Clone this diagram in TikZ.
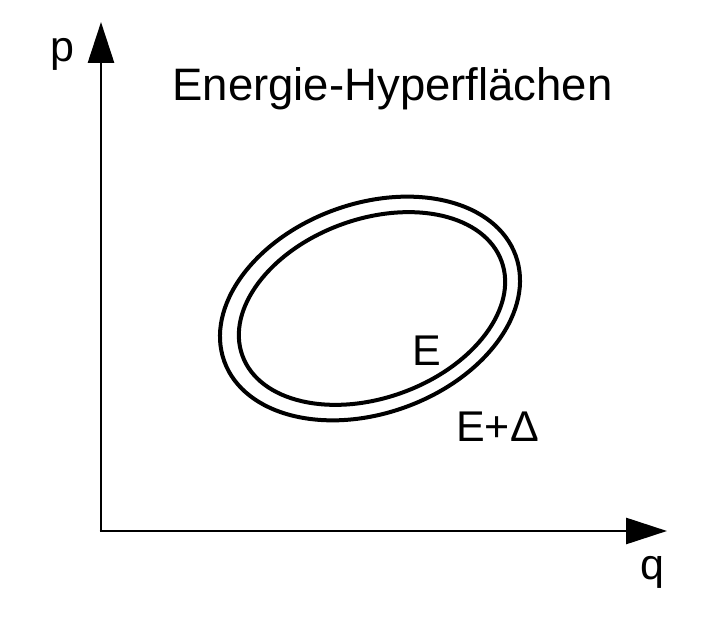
\documentclass[tikz,border=0pt]{standalone}
\usepackage{fontspec}
\setmainfont{Liberation Sans}
\usetikzlibrary{arrows.meta}
\begin{document}
\begin{tikzpicture}[x=1pt,y=-1pt,
  axis/.style={line width=2.8pt,-{Triangle[length=41pt,width=26pt]}},
  curve/.style={line width=4pt},
  lbl/.style={font=\fontsize{43}{43}\selectfont,inner sep=0pt,anchor=base}]
\useasboundingbox (0,0) rectangle (716,620);
\coordinate (O) at (101,531);
\coordinate (P) at (101,22);
\coordinate (Q) at (667,531);
\draw[axis] (O) -- (P);
\draw[axis] ([xshift=-1.4pt]O) -- (Q);
\node[lbl] (p) at (62.5,62) {p};
\node[lbl] (q) at (652.5,580) {q};
\node[lbl,font=\fontsize{45.5}{45.5}\selectfont] (title) at (392.5,101) {Energie-Hyperflächen};
\draw[curve,rotate around={20:(370,308.5)}] (370,308.5) ellipse [x radius=155pt, y radius=104.8pt];
\draw[curve,rotate around={20:(372,308.5)}] (372,308.5) ellipse [x radius=137.9pt, y radius=89.4pt];
\node[lbl] (E) at (426.5,366) {E};
\node[lbl] (EpD) at (497.5,442) {E+Δ};
\end{tikzpicture}
\end{document}
